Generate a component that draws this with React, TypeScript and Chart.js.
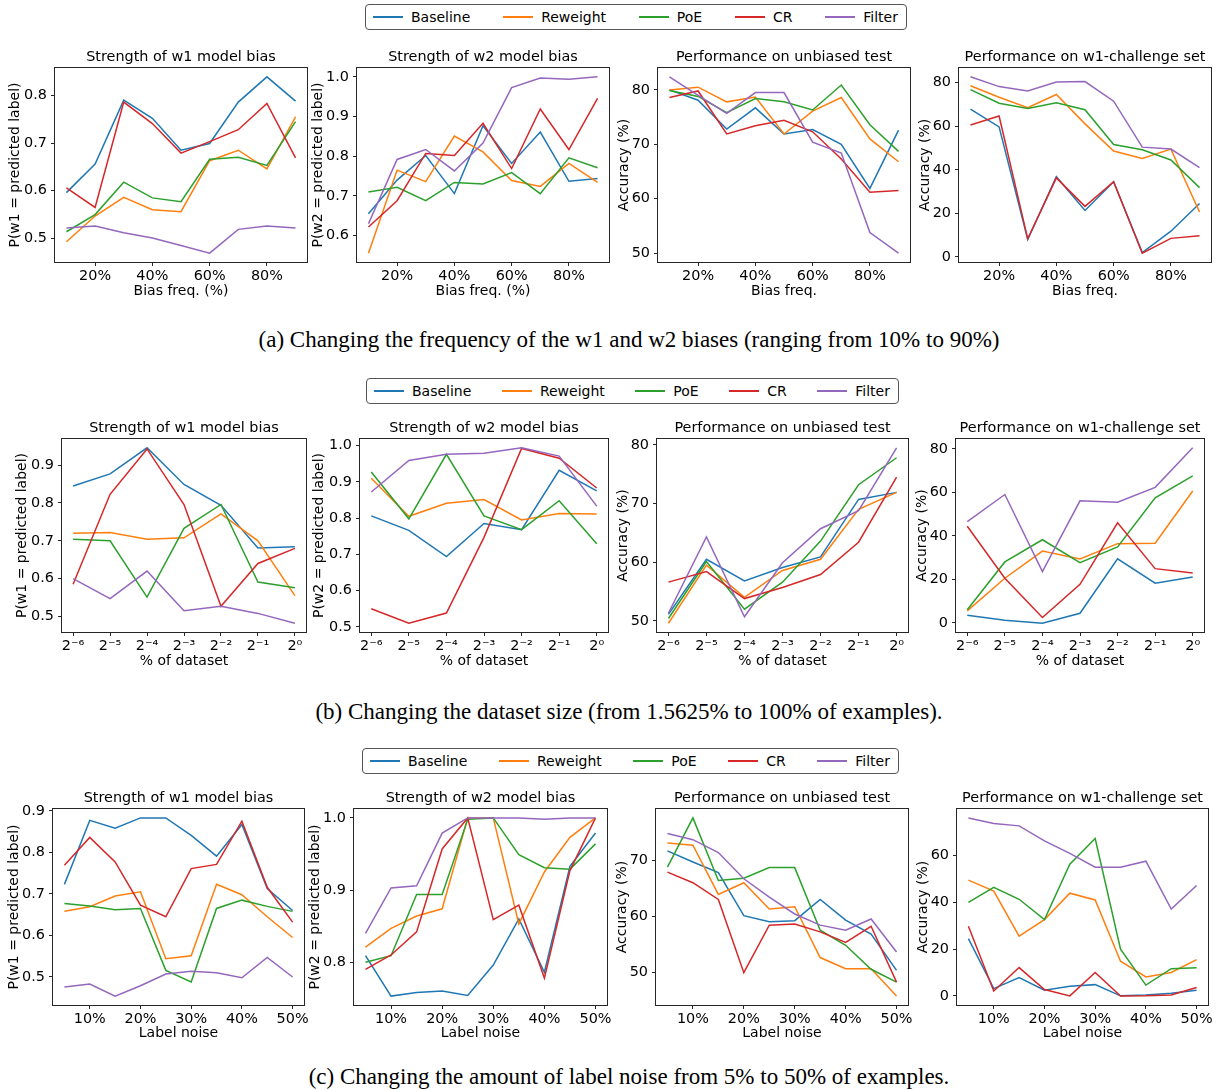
import React, { useEffect, useRef } from 'react';
import { Chart, registerables } from 'chart.js';

Chart.register(...registerables);

const FONT = '"DejaVu Sans", sans-serif';
const SERIF = '"Liberation Serif", "Times New Roman", serif';
const SERIES_NAMES = ['Baseline', 'Reweight', 'PoE', 'CR', 'Filter'];
const SERIES_COLORS = ['#1f77b4', '#ff7f0e', '#2ca02c', '#d62728', '#9467bd'];

// ---------- x values and tick values ----------
const biasFreq = [0.1, 0.2, 0.3, 0.4, 0.5, 0.6, 0.7, 0.8, 0.9];
const biasFreqTicks = [0.2, 0.4, 0.6, 0.8];
const datasetExp = [-6, -5, -4, -3, -2, -1, 0];
const datasetExpTicks = [-6, -5, -4, -3, -2, -1, 0];
const labelNoise = [0.05, 0.1, 0.15, 0.2, 0.25, 0.3, 0.35, 0.4, 0.45, 0.5];
const labelNoiseTicks = [0.1, 0.2, 0.3, 0.4, 0.5];

const probTicks4 = [0.5, 0.6, 0.7, 0.8];
const probTicks5a = [0.6, 0.7, 0.8, 0.9, 1.0];
const probTicks5b = [0.5, 0.6, 0.7, 0.8, 0.9];
const probTicks6 = [0.5, 0.6, 0.7, 0.8, 0.9, 1.0];
const probTicks3 = [0.8, 0.9, 1.0];
const accTicks50to80 = [50, 60, 70, 80];
const accTicks0to80 = [0, 20, 40, 60, 80];
const accTicks50to70 = [50, 60, 70];
const accTicks0to60 = [0, 20, 40, 60];

// ---------- (a) bias frequency ----------
const freqW1Baseline = [0.596, 0.656, 0.79, 0.752, 0.685, 0.699, 0.786, 0.839, 0.788];
const freqW1Reweight = [0.493, 0.547, 0.586, 0.56, 0.556, 0.663, 0.685, 0.646, 0.755];
const freqW1PoE = [0.514, 0.55, 0.618, 0.585, 0.577, 0.666, 0.67, 0.653, 0.745];
const freqW1CR = [0.606, 0.565, 0.786, 0.741, 0.679, 0.703, 0.728, 0.783, 0.669];
const freqW1Filter = [0.522, 0.526, 0.512, 0.501, 0.485, 0.469, 0.519, 0.526, 0.522];

const freqW2Baseline = [0.655, 0.74, 0.802, 0.706, 0.877, 0.782, 0.861, 0.737, 0.744];
const freqW2Reweight = [0.556, 0.765, 0.736, 0.851, 0.811, 0.739, 0.724, 0.782, 0.734];
const freqW2PoE = [0.71, 0.722, 0.688, 0.734, 0.73, 0.759, 0.706, 0.796, 0.771];
const freqW2CR = [0.622, 0.688, 0.807, 0.802, 0.883, 0.769, 0.919, 0.817, 0.946];
const freqW2Filter = [0.63, 0.792, 0.817, 0.763, 0.833, 0.973, 0.997, 0.994, 1.0];

const freqUnbBaseline = [80, 78.1, 72.8, 76.7, 71.9, 72.7, 70, 61.9, 72.6];
const freqUnbReweight = [80, 80.5, 77.8, 78.7, 71.9, 76.1, 78.6, 71, 66.8];
const freqUnbPoE = [79.9, 78.8, 75.8, 78.4, 77.8, 76.3, 80.9, 73.6, 68.7];
const freqUnbCR = [78.6, 79.8, 71.9, 73.4, 74.4, 72.3, 67.3, 61.2, 61.5];
const freqUnbFilter = [82.4, 79, 75.7, 79.5, 79.5, 70.4, 68.4, 53.8, 50];

const freqChBaseline = [67.9, 59.7, 8, 36.8, 21.3, 34.5, 2, 11.8, 24.5];
const freqChReweight = [78.6, 73.3, 68.5, 74.6, 61.1, 48.6, 45.2, 49.5, 20.6];
const freqChPoE = [76.8, 70.6, 68.1, 70.8, 67.6, 51.6, 49.2, 44.5, 31.8];
const freqChCR = [60.6, 64.7, 8.3, 36.3, 23.2, 34.5, 1.7, 8.5, 9.7];
const freqChFilter = [82.7, 78.2, 76.2, 80.3, 80.5, 71.5, 50.4, 49.5, 41];

// ---------- (b) dataset size ----------
const sizeW1Baseline = [0.845, 0.877, 0.946, 0.849, 0.794, 0.681, 0.684];
const sizeW1Reweight = [0.72, 0.722, 0.704, 0.708, 0.771, 0.7, 0.555];
const sizeW1PoE = [0.704, 0.7, 0.551, 0.733, 0.796, 0.591, 0.576];
const sizeW1CR = [0.585, 0.823, 0.943, 0.796, 0.527, 0.64, 0.68];
const sizeW1Filter = [0.6, 0.547, 0.62, 0.515, 0.527, 0.508, 0.482];

const sizeW2Baseline = [0.806, 0.766, 0.694, 0.785, 0.768, 0.932, 0.875];
const sizeW2Reweight = [0.91, 0.805, 0.841, 0.851, 0.795, 0.813, 0.811];
const sizeW2PoE = [0.927, 0.798, 0.976, 0.806, 0.768, 0.848, 0.729];
const sizeW2CR = [0.55, 0.51, 0.538, 0.747, 0.992, 0.965, 0.883];
const sizeW2Filter = [0.872, 0.959, 0.976, 0.979, 0.994, 0.971, 0.833];

const sizeUnbBaseline = [51.1, 60.5, 56.8, 59.1, 60.9, 70.7, 71.9];
const sizeUnbReweight = [49.6, 59.5, 54, 58.6, 60.5, 69, 71.9];
const sizeUnbPoE = [50.4, 60.1, 52, 56.6, 63.6, 73.2, 77.8];
const sizeUnbCR = [56.6, 58.4, 53.8, 55.7, 57.9, 63.4, 74.5];
const sizeUnbFilter = [51.3, 64.3, 50.7, 59.9, 65.7, 68.8, 79.5];

const sizeChBaseline = [3.5, 1.2, -0.2, 4.4, 29.4, 18.2, 21.1];
const sizeChReweight = [5.5, 20.5, 33, 29.4, 36.4, 36.6, 60.6];
const sizeChPoE = [6, 28, 38.2, 27.7, 34.9, 57.5, 67.6];
const sizeChCR = [44.4, 20.5, 2.4, 17.7, 46, 24.9, 22.9];
const sizeChFilter = [46.5, 59, 23.6, 56.1, 55.5, 62.3, 80.5];

// ---------- (c) label noise ----------
const noiseW1Baseline = [0.723, 0.877, 0.858, 0.883, 0.883, 0.841, 0.791, 0.867, 0.713, 0.66];
const noiseW1Reweight = [0.658, 0.669, 0.695, 0.705, 0.544, 0.551, 0.723, 0.698, 0.645, 0.595];
const noiseW1PoE = [0.677, 0.671, 0.662, 0.665, 0.516, 0.488, 0.665, 0.685, 0.67, 0.658];
const noiseW1CR = [0.769, 0.836, 0.777, 0.673, 0.645, 0.761, 0.771, 0.875, 0.716, 0.632];
const noiseW1Filter = [0.476, 0.483, 0.454, 0.479, 0.507, 0.514, 0.51, 0.498, 0.547, 0.5];

const noiseW2Baseline = [0.809, 0.753, 0.758, 0.76, 0.754, 0.796, 0.86, 0.786, 0.933, 0.979];
const noiseW2Reweight = [0.821, 0.847, 0.864, 0.874, 1.0, 1.0, 0.853, 0.925, 0.973, 1.0];
const noiseW2PoE = [0.8, 0.809, 0.894, 0.894, 0.998, 1.0, 0.949, 0.931, 0.929, 0.964];
const noiseW2CR = [0.79, 0.81, 0.842, 0.957, 1.0, 0.859, 0.879, 0.778, 0.927, 1.0];
const noiseW2Filter = [0.84, 0.903, 0.906, 0.979, 1.0, 1.0, 1.0, 0.998, 1.0, 1.0];

const noiseUnbBaseline = [71.7, 69.7, 67.8, 60.1, 59, 59.2, 63, 59.3, 56.8, 50.3];
const noiseUnbReweight = [73.1, 72.7, 63.9, 66, 61.3, 61.7, 52.6, 50.6, 50.6, 45.7];
const noiseUnbPoE = [68.8, 77.6, 66.4, 66.8, 68.7, 68.7, 57.5, 54.8, 50.5, 48.2];
const noiseUnbCR = [67.9, 66, 63, 49.9, 58.4, 58.6, 57.2, 55.3, 58.2, 48.2];
const noiseUnbFilter = [74.8, 73.7, 71.4, 66.7, 63.4, 60.4, 58.4, 57.5, 59.5, 53.6];

const noiseChBaseline = [24.5, 3.1, 7.8, 2.4, 4.1, 4.8, 0, 0.4, 1.1, 2.4];
const noiseChReweight = [49.5, 44.8, 25.5, 32.6, 43.9, 41, 14.8, 8.1, 10, 15.5];
const noiseChPoE = [40, 46.4, 41.3, 32.6, 56.3, 67.3, 20, 4.6, 11.6, 12];
const noiseChCR = [29.8, 2.1, 12.1, 2.7, 0, 10, -0.1, 0, 0.4, 3.6];
const noiseChFilter = [76.1, 73.7, 72.7, 66.3, 60.9, 55, 55, 57.6, 37.1, 47.2];

// ---------- text ----------
const TITLE_W1 = 'Strength of w1 model bias';
const TITLE_W2 = 'Strength of w2 model bias';
const TITLE_UNB = 'Performance on unbiased test';
const TITLE_CH = 'Performance on w1-challenge set';
const YLAB_W1 = 'P(w1 = predicted label)';
const YLAB_W2 = 'P(w2 = predicted label)';
const YLAB_ACC = 'Accuracy (%)';
const CAPTION_A = '(a) Changing the frequency of the w1 and w2 biases (ranging from 10% to 90%)';
const CAPTION_B = '(b) Changing the dataset size (from 1.5625% to 100% of examples).';
const CAPTION_C = '(c) Changing the amount of label noise from 5% to 50% of examples.';

// ---------- formatters ----------
const SUP: Record<string, string> = {
  '-': '\u207B', '0': '\u2070', '1': '\u00B9', '2': '\u00B2', '3': '\u00B3',
  '4': '\u2074', '5': '\u2075', '6': '\u2076', '7': '\u2077', '8': '\u2078', '9': '\u2079',
};
const fmtPct = (v: number) => `${Math.round(v * 100)}%`;
const fmtPow2 = (v: number) => '2' + String(Math.round(v)).split('').map((c) => SUP[c] || c).join('');
const fmtProb = (v: number) => v.toFixed(1);
const fmtInt = (v: number) => String(Math.round(v));

type Box = { left: number; top: number; right: number; bottom: number };
type PanelSpec = {
  key: string;
  title: string;
  xLabel: string;
  yLabel: string;
  x: number[];
  xTicks: number[];
  xFmt: (v: number) => string;
  series: number[][];
  yTicks: number[];
  yFmt: (v: number) => string;
  box: Box;
  yLabelOffset: number;
  xLabelOffset: number;
};

const ROW_A = { top: 68, bottom: 262 };
const ROW_B = { top: 439, bottom: 632 };
const ROW_C = { top: 809, bottom: 1005 };

const PANELS: PanelSpec[] = [
  {
    key: 'a1', title: TITLE_W1, xLabel: 'Bias freq. (%)', yLabel: YLAB_W1,
    x: biasFreq, xTicks: biasFreqTicks, xFmt: fmtPct,
    series: [freqW1Baseline, freqW1Reweight, freqW1PoE, freqW1CR, freqW1Filter],
    yTicks: probTicks4, yFmt: fmtProb,
    box: { left: 55, right: 307, ...ROW_A }, yLabelOffset: 40, xLabelOffset: 30,
  },
  {
    key: 'a2', title: TITLE_W2, xLabel: 'Bias freq. (%)', yLabel: YLAB_W2,
    x: biasFreq, xTicks: biasFreqTicks, xFmt: fmtPct,
    series: [freqW2Baseline, freqW2Reweight, freqW2PoE, freqW2CR, freqW2Filter],
    yTicks: probTicks5a, yFmt: fmtProb,
    box: { left: 357, right: 609, ...ROW_A }, yLabelOffset: 39, xLabelOffset: 30,
  },
  {
    key: 'a3', title: TITLE_UNB, xLabel: 'Bias freq.', yLabel: YLAB_ACC,
    x: biasFreq, xTicks: biasFreqTicks, xFmt: fmtPct,
    series: [freqUnbBaseline, freqUnbReweight, freqUnbPoE, freqUnbCR, freqUnbFilter],
    yTicks: accTicks50to80, yFmt: fmtInt,
    box: { left: 658, right: 910, ...ROW_A }, yLabelOffset: 34, xLabelOffset: 30,
  },
  {
    key: 'a4', title: TITLE_CH, xLabel: 'Bias freq.', yLabel: YLAB_ACC,
    x: biasFreq, xTicks: biasFreqTicks, xFmt: fmtPct,
    series: [freqChBaseline, freqChReweight, freqChPoE, freqChCR, freqChFilter],
    yTicks: accTicks0to80, yFmt: fmtInt,
    box: { left: 959, right: 1211, ...ROW_A }, yLabelOffset: 34, xLabelOffset: 30,
  },
  {
    key: 'b1', title: TITLE_W1, xLabel: '% of dataset', yLabel: YLAB_W1,
    x: datasetExp, xTicks: datasetExpTicks, xFmt: fmtPow2,
    series: [sizeW1Baseline, sizeW1Reweight, sizeW1PoE, sizeW1CR, sizeW1Filter],
    yTicks: probTicks5b, yFmt: fmtProb,
    box: { left: 62, right: 306, ...ROW_B }, yLabelOffset: 40, xLabelOffset: 30,
  },
  {
    key: 'b2', title: TITLE_W2, xLabel: '% of dataset', yLabel: YLAB_W2,
    x: datasetExp, xTicks: datasetExpTicks, xFmt: fmtPow2,
    series: [sizeW2Baseline, sizeW2Reweight, sizeW2PoE, sizeW2CR, sizeW2Filter],
    yTicks: probTicks6, yFmt: fmtProb,
    box: { left: 360, right: 608, ...ROW_B }, yLabelOffset: 41, xLabelOffset: 30,
  },
  {
    key: 'b3', title: TITLE_UNB, xLabel: '% of dataset', yLabel: YLAB_ACC,
    x: datasetExp, xTicks: datasetExpTicks, xFmt: fmtPow2,
    series: [sizeUnbBaseline, sizeUnbReweight, sizeUnbPoE, sizeUnbCR, sizeUnbFilter],
    yTicks: accTicks50to80, yFmt: fmtInt,
    box: { left: 657, right: 908, ...ROW_B }, yLabelOffset: 34, xLabelOffset: 30,
  },
  {
    key: 'b4', title: TITLE_CH, xLabel: '% of dataset', yLabel: YLAB_ACC,
    x: datasetExp, xTicks: datasetExpTicks, xFmt: fmtPow2,
    series: [sizeChBaseline, sizeChReweight, sizeChPoE, sizeChCR, sizeChFilter],
    yTicks: accTicks0to80, yFmt: fmtInt,
    box: { left: 956, right: 1204, ...ROW_B }, yLabelOffset: 34, xLabelOffset: 30,
  },
  {
    key: 'c1', title: TITLE_W1, xLabel: 'Label noise', yLabel: YLAB_W1,
    x: labelNoise, xTicks: labelNoiseTicks, xFmt: fmtPct,
    series: [noiseW1Baseline, noiseW1Reweight, noiseW1PoE, noiseW1CR, noiseW1Filter],
    yTicks: probTicks5b, yFmt: fmtProb,
    box: { left: 53, right: 304, ...ROW_C }, yLabelOffset: 39, xLabelOffset: 28.5,
  },
  {
    key: 'c2', title: TITLE_W2, xLabel: 'Label noise', yLabel: YLAB_W2,
    x: labelNoise, xTicks: labelNoiseTicks, xFmt: fmtPct,
    series: [noiseW2Baseline, noiseW2Reweight, noiseW2PoE, noiseW2CR, noiseW2Filter],
    yTicks: probTicks3, yFmt: fmtProb,
    box: { left: 354, right: 607, ...ROW_C }, yLabelOffset: 39, xLabelOffset: 28.5,
  },
  {
    key: 'c3', title: TITLE_UNB, xLabel: 'Label noise', yLabel: YLAB_ACC,
    x: labelNoise, xTicks: labelNoiseTicks, xFmt: fmtPct,
    series: [noiseUnbBaseline, noiseUnbReweight, noiseUnbPoE, noiseUnbCR, noiseUnbFilter],
    yTicks: accTicks50to70, yFmt: fmtInt,
    box: { left: 656, right: 908, ...ROW_C }, yLabelOffset: 34, xLabelOffset: 28.5,
  },
  {
    key: 'c4', title: TITLE_CH, xLabel: 'Label noise', yLabel: YLAB_ACC,
    x: labelNoise, xTicks: labelNoiseTicks, xFmt: fmtPct,
    series: [noiseChBaseline, noiseChReweight, noiseChPoE, noiseChCR, noiseChFilter],
    yTicks: accTicks0to60, yFmt: fmtInt,
    box: { left: 957, right: 1208, ...ROW_C }, yLabelOffset: 34, xLabelOffset: 28.5,
  },
];

const TITLE_SIZE = 14.4;
const TICK_SIZE = 14.4;
const AXIS_SIZE = 14;
const TITLE_PAD_TOP = 2.12;
const TITLE_PAD_BOTTOM = 1.6;
const TH = TITLE_PAD_TOP + TITLE_SIZE * 1.2 + TITLE_PAD_BOTTOM; // = 21
const RIGHT_PAD = 26;
const INK = '#262626';

const framePlugin = {
  id: 'frame',
  afterDatasetsDraw(chart: any) {
    const { ctx, chartArea } = chart;
    const l = Math.round(chartArea.left);
    const t = Math.round(chartArea.top);
    const r = Math.round(chartArea.right);
    const b = Math.round(chartArea.bottom);
    ctx.save();
    ctx.strokeStyle = INK;
    ctx.lineWidth = 1;
    ctx.strokeRect(l - 0.5, t - 0.5, r - l + 1, b - t + 1);
    ctx.restore();
  },
};

function extent(vals: number[]) {
  const mn = Math.min(...vals);
  const mx = Math.max(...vals);
  const pad = (mx - mn) * 0.05;
  return { min: mn - pad, max: mx + pad };
}

function Panel({ spec }: { spec: PanelSpec }) {
  const ref = useRef<HTMLCanvasElement>(null);
  const YW = Math.round(spec.yLabelOffset + (AXIS_SIZE * 1.2) / 2);
  const XH = Math.round(spec.xLabelOffset + (AXIS_SIZE * 1.2) / 2);
  const plotW = spec.box.right - spec.box.left;
  const plotH = spec.box.bottom - spec.box.top;
  const W = YW + plotW + RIGHT_PAD;
  const H = Math.round(TH + plotH + XH);

  useEffect(() => {
    if (!ref.current) return;
    const xr = extent(spec.x);
    const yr = extent(spec.series.flat());
    const chart = new Chart(ref.current, {
      type: 'line',
      data: {
        datasets: spec.series.map((vals, i) => ({
          label: SERIES_NAMES[i],
          data: vals.map((v, j) => ({ x: spec.x[j], y: v })),
          borderColor: SERIES_COLORS[i],
          backgroundColor: SERIES_COLORS[i],
          borderWidth: 1.5,
          pointRadius: 0,
          tension: 0,
          fill: false,
          order: SERIES_NAMES.length - i,
        })),
      },
      options: {
        responsive: false,
        animation: false,
        devicePixelRatio: 1,
        events: [],
        layout: { padding: { left: 0, right: RIGHT_PAD, top: 0, bottom: 0 } },
        plugins: {
          legend: { display: false },
          tooltip: { enabled: false },
          title: {
            display: true,
            text: spec.title,
            fullSize: false,
            color: '#000',
            font: { family: FONT, size: TITLE_SIZE, weight: 'normal', lineHeight: 1.2 },
            padding: { top: TITLE_PAD_TOP, bottom: TITLE_PAD_BOTTOM },
          },
        },
        scales: {
          x: {
            type: 'linear',
            min: xr.min,
            max: xr.max,
            afterBuildTicks: (s: any) => {
              s.ticks = spec.xTicks.map((v) => ({ value: v }));
            },
            afterFit: (s: any) => {
              s.height = XH;
              s.paddingLeft = 0;
              s.paddingRight = 0;
              s.paddingTop = 0;
              s.paddingBottom = 0;
            },
            ticks: {
              callback: (v: any) => spec.xFmt(Number(v)),
              color: '#000',
              font: { family: FONT, size: TICK_SIZE },
              padding: 2,
              maxRotation: 0,
              minRotation: 0,
              autoSkip: false,
            },
            grid: { display: true, drawOnChartArea: false, drawTicks: true, tickLength: 4, color: INK, lineWidth: 1 },
            border: { display: false },
            title: {
              display: true,
              text: spec.xLabel,
              color: '#000',
              font: { family: FONT, size: AXIS_SIZE, lineHeight: 1.2 },
              padding: 0,
            },
          },
          y: {
            type: 'linear',
            min: yr.min,
            max: yr.max,
            afterBuildTicks: (s: any) => {
              s.ticks = spec.yTicks.map((v) => ({ value: v }));
            },
            afterFit: (s: any) => {
              s.width = YW;
              s.paddingLeft = 0;
              s.paddingRight = 0;
              s.paddingTop = 0;
              s.paddingBottom = 0;
            },
            ticks: {
              callback: (v: any) => spec.yFmt(Number(v)),
              color: '#000',
              font: { family: FONT, size: TICK_SIZE },
              padding: 4,
              autoSkip: false,
            },
            grid: { display: true, drawOnChartArea: false, drawTicks: true, tickLength: 4, color: INK, lineWidth: 1 },
            border: { display: false },
            title: {
              display: true,
              text: spec.yLabel,
              color: '#000',
              font: { family: FONT, size: AXIS_SIZE, lineHeight: 1.2 },
              padding: 0,
            },
          },
        },
      } as any,
      plugins: [framePlugin],
    });
    return () => chart.destroy();
  }, [spec]);

  return (
    <canvas
      ref={ref}
      width={W}
      height={H}
      style={{
        position: 'absolute',
        left: spec.box.left - YW,
        top: spec.box.top - TH,
        width: W,
        height: H,
      }}
    />
  );
}

function Legend({ left, top, width }: { left: number; top: number; width: number }) {
  return (
    <div
      style={{
        position: 'absolute',
        left,
        top,
        width,
        height: 26,
        boxSizing: 'border-box',
        border: '1px solid #555',
        borderRadius: 4,
        background: '#fff',
        display: 'flex',
        justifyContent: 'space-between',
        alignItems: 'center',
        padding: '0 8px 0 7px',
        fontFamily: FONT,
        fontSize: 14,
        color: '#000',
      }}
    >
      {SERIES_NAMES.map((name, i) => (
        <div key={name} style={{ display: 'flex', alignItems: 'center' }}>
          <div style={{ width: 30, height: 2, backgroundColor: SERIES_COLORS[i], marginRight: 8 }} />
          <span>{name}</span>
        </div>
      ))}
    </div>
  );
}

function Caption({ text, centerY }: { text: string; centerY: number }) {
  return (
    <div
      style={{
        position: 'absolute',
        left: 129,
        width: 1000,
        top: centerY - 12,
        height: 24,
        lineHeight: '24px',
        textAlign: 'center',
        fontFamily: SERIF,
        fontSize: 23,
        color: '#000',
        whiteSpace: 'nowrap',
      }}
    >
      {text}
    </div>
  );
}

export default function App() {
  return (
    <div
      style={{
        position: 'absolute',
        left: 0,
        top: 0,
        width: 1221,
        height: 1090,
        overflow: 'hidden',
        background: '#fff',
      }}
    >
      {PANELS.map((p) => (
        <Panel key={p.key} spec={p} />
      ))}
      <Legend left={365} top={4} width={542} />
      <Legend left={366} top={378} width={533} />
      <Legend left={362} top={748} width={537} />
      <Caption text={CAPTION_A} centerY={340} />
      <Caption text={CAPTION_B} centerY={712} />
      <Caption text={CAPTION_C} centerY={1077} />
    </div>
  );
}
